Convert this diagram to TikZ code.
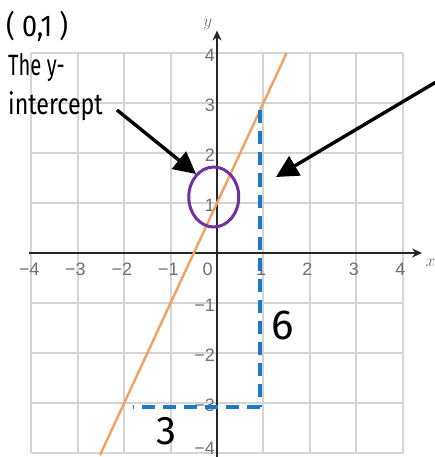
\documentclass[tikz,border=0pt]{standalone}
\usepackage{fontspec}
\setmainfont{Liberation Sans}
\newfontfamily\tickfont{Liberation Sans}
\newfontfamily\handfont{Fira Sans}
\usetikzlibrary{arrows.meta,shapes.geometric}
\definecolor{gridgray}{HTML}{D4D4D4}
\definecolor{ticklab}{HTML}{707070}
\definecolor{lineorange}{HTML}{F4A060}
\definecolor{dashblue}{HTML}{1E78C8}
\definecolor{circpurple}{HTML}{7030A0}
\tikzset{
  gridline/.style={gridgray, line width=2pt},
  axisline/.style={black!85, line width=2.6pt, -{Stealth[length=10pt,width=9pt]}},
  ticklabel/.style={ticklab, font=\tickfont\fontsize{18}{18}\selectfont, inner sep=1pt},
  hand/.style={font=\handfont\fontsize{28}{30}\selectfont, inner sep=0pt, anchor=west},
  bigarrow/.style={black, line width=3.4pt, -{Triangle[length=22pt,width=22pt]}},
  helper/.style={dashblue, line width=4pt, dash pattern=on 13pt off 8pt},
}
\begin{document}
\begin{tikzpicture}
\useasboundingbox (0,0) rectangle (434pt,-457pt);
\fill[white] (0,0) rectangle (434pt,-457pt);
\begin{scope}[shift={(217pt,-253pt)}, x=46.4pt, y=50pt]
  % grid
  \foreach \i in {-4,...,4} {
    \draw[gridline] (\i,-4) -- (\i,4);
    \draw[gridline] (-4,\i) -- (4,\i);
  }
  % axes
  \coordinate (xs) at (-4.05,0);
  \coordinate (xe) at (4.42,0);
  \coordinate (ys) at (0,-4.1);
  \coordinate (ye) at (0,4.45);
  \draw[axisline] (xs) -- (xe);
  \draw[axisline] (ys) -- (ye);
  \node[ticklab, font=\fontsize{18}{18}\selectfont] (xlab) at (4.6,-0.2) {$x$};
  \node[ticklab, font=\fontsize{18}{18}\selectfont] (ylab) at (-0.2,4.57) {$y$};
  % tick labels
  \foreach \i in {-4,-3,-2,-1,1,2,3,4} {
    \node[ticklabel] (tx\i) at (\i-0.05,-0.32) {\ifnum\i<0 −\the\numexpr-\i\relax\else\i\fi};
  }
  \node[ticklabel] (tx0) at (-0.2,-0.32) {0};
  \foreach \i in {-3,-2,-1,1,2,3,4} {
    \node[ticklabel, anchor=east] (ty\i) at (-0.02,\i-0.05) {\ifnum\i<0 −\the\numexpr-\i\relax\else\i\fi};
  }
  \node[ticklabel, anchor=east] (ty-4) at (-0.02,-3.9) {−4};
  % line y = 2x + 1
  \coordinate (la) at (-2.52,-4.04);
  \coordinate (lb) at (1.5,4);
  \draw[lineorange, line width=2.4pt] (la) -- (lb);
  % rise / run helpers
  \coordinate (r0) at (0.93,2.85);
  \coordinate (r1) at (0.93,-3.08);
  \coordinate (r2) at (-1.8,-3.08);
  \draw[helper] (r0) -- (r1);
  \draw[helper] (r1) -- (r2);
  % circle around intercept
  \node[draw=circpurple, line width=3pt, ellipse, minimum width=50pt, minimum height=60pt, inner sep=0pt] (circ) at (-0.07,1.12) {};
\end{scope}
% hand-written annotations
\node[hand, font=\handfont\fontsize{30}{32}\selectfont] (pt) at (6pt,-26pt) {\scalebox{0.9}[1]{( 0,1 )}};
\node[hand] (t1) at (8pt,-68pt) {\scalebox{0.72}[1.05]{The y-}};
\node[hand] (t2) at (8pt,-106pt) {\scalebox{0.83}[1.05]{intercept}};
\coordinate (a1s) at (117pt,-110pt);
\coordinate (a1e) at (196pt,-174pt);
\draw[bigarrow] (a1s) -- (a1e);
\coordinate (a2s) at (436pt,-82pt);
\coordinate (a2e) at (276pt,-177pt);
\draw[bigarrow] (a2s) -- (a2e);
\node[font=\handfont\fontsize{42}{42}\selectfont, inner sep=0pt] (six) at (283pt,-325pt) {6};
\node[font=\handfont\fontsize{40}{40}\selectfont, inner sep=0pt] (three) at (166pt,-431pt) {3};
\end{tikzpicture}
\end{document}
